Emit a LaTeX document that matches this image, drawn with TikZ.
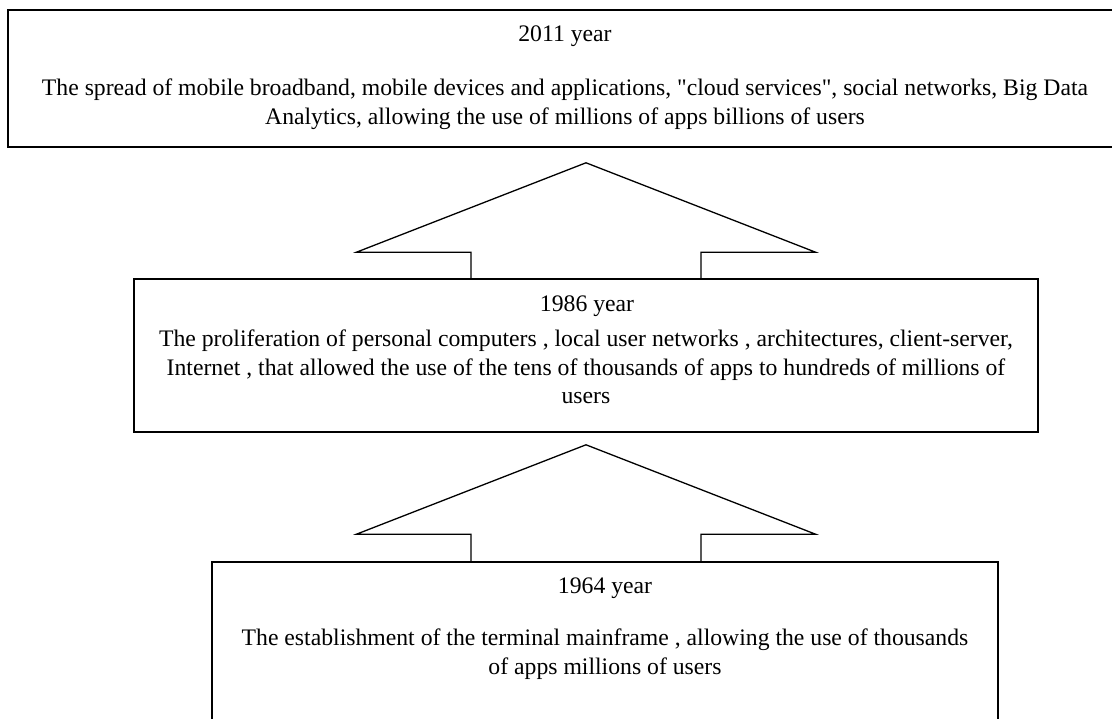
\documentclass[tikz,border=0pt]{standalone}
\usepackage{fontspec}
\setmainfont{Liberation Serif}[Ligatures=TeXOff]
\usetikzlibrary{calc,positioning}
\tikzset{
  era/.style={draw=black, line width=1.6pt, inner sep=0pt},
  yearlab/.style={font=\fontsize{23.7}{28.5}\selectfont, inner sep=0pt},
  desc/.style={font=\fontsize{23.7}{28.5}\selectfont, align=center, inner sep=0pt},
  uparrow/.style={draw=black, line width=1.3pt, line join=miter},
}

\begin{document}
\begin{tikzpicture}[x=1pt,y=1pt]
  \path[use as bounding box] (0,0) rectangle (1112,719);

  % Era boxes.
  \node[era, minimum width=1113.5pt, minimum height=137pt] (b2011) at (565,640.5) {};
  \node[era, minimum width=904pt, minimum height=153pt] (b1986) at (586,363.5) {};
  \node[era, minimum width=786pt, minimum height=200pt] (b1964) at (605,57) {};

  % Texts.
  \node[yearlab] (t2011) at (565,683) {2011 year};
  \node[desc] (d2011) at (565,615)
    {The spread of mobile broadband, mobile devices and applications, "cloud services", social networks, Big Data\\
     Analytics, allowing the use of millions of apps billions of users};
  \node[yearlab] (t1986) at (587,413) {1986 year};
  \node[desc] (d1986) at (586,352)
    {The proliferation of personal computers , local user networks , architectures, client-server,\\
     Internet , that allowed the use of the tens of thousands of apps to hundreds of millions of\\
     users};
  \node[yearlab] (t1964) at (605,131) {1964 year};
  \node[desc] (d1964) at (605,65)
    {The establishment of the terminal mainframe , allowing the use of thousands\\
     of apps millions of users};

  % Block arrows.
  \coordinate (a1base) at (b1986.north);
  \coordinate (a1tip) at ($(a1base |- b2011.south)+(0,-15)$);
  \draw[uparrow] ($(a1base)+(-115,0)$) |- ($(a1base)+(-229.5,26)$) -- (a1tip)
    -- ($(a1base)+(229.5,26)$) -| ($(a1base)+(115,0)$);

  \coordinate (a2tip) at ($(b1986.south)+(0,-12)$);
  \coordinate (a2base) at (a2tip |- b1964.north);
  \draw[uparrow] ($(a2base)+(-115,0)$) |- ($(a2base)+(-229.5,27)$) -- (a2tip)
    -- ($(a2base)+(229.5,27)$) -| ($(a2base)+(115,0)$);
\end{tikzpicture}
\end{document}
